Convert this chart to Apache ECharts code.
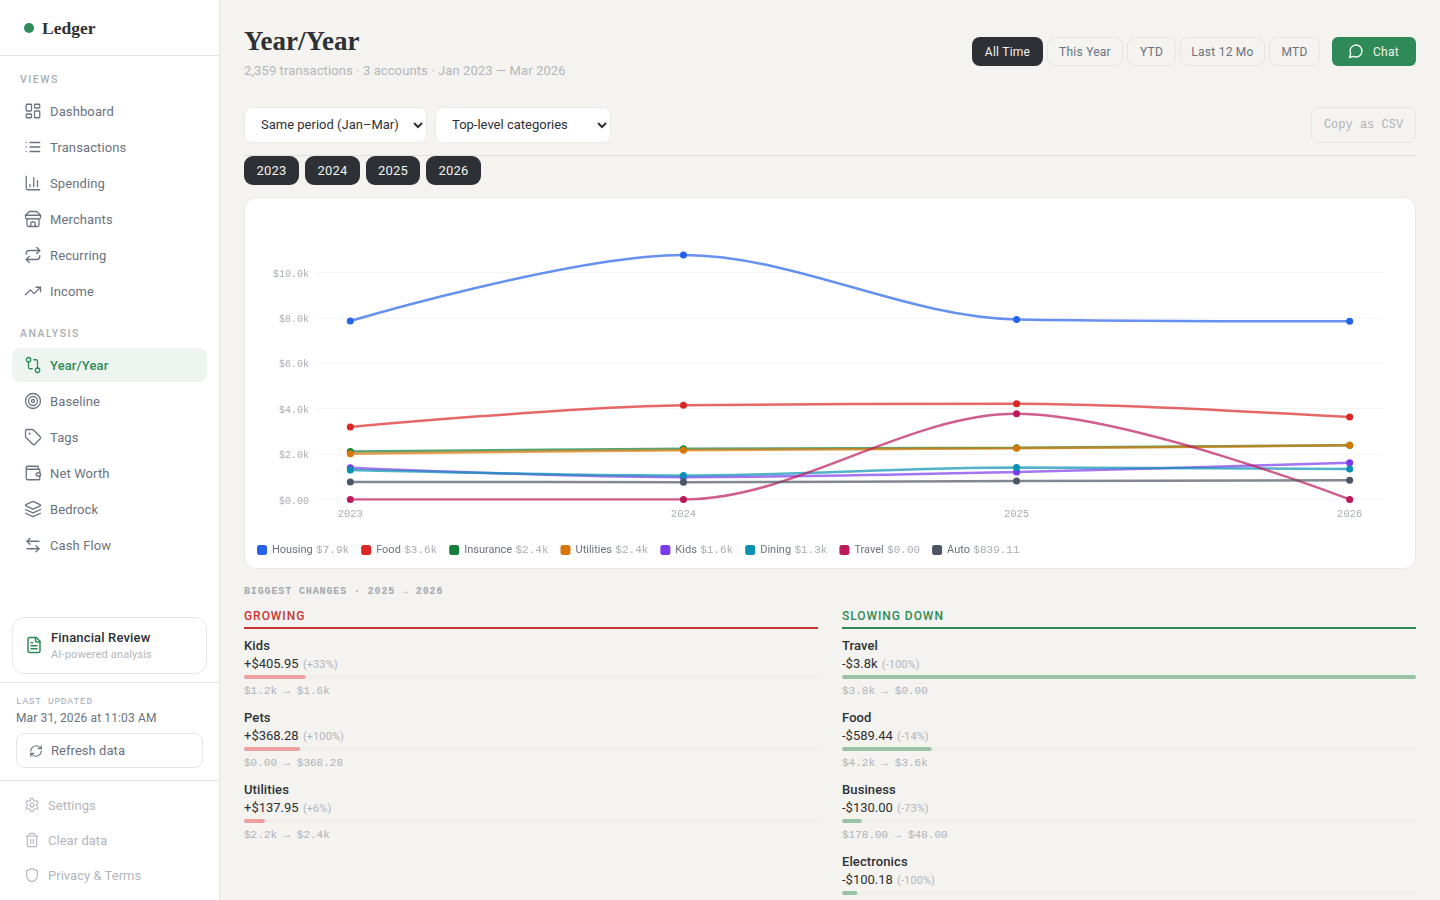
<!DOCTYPE html>
<html><head><meta charset="utf-8">
<script src="https://cdn.jsdelivr.net/npm/echarts@6/dist/echarts.min.js"></script>
<style>
*{box-sizing:border-box;margin:0;padding:0}
html,body{width:1440px;height:900px;overflow:hidden;background:#f4f3ef;font-family:Roboto,sans-serif;color:#2d3035}
.a{position:absolute;white-space:nowrap}
.mono{font-family:"Liberation Mono",monospace}
.serif{font-family:"Liberation Serif",serif;font-weight:700}
svg.i{position:absolute;fill:none;stroke:currentColor;stroke-width:2;stroke-linecap:round;stroke-linejoin:round}
.vc{display:flex;align-items:center;justify-content:center}
.pill{border:1px solid #e6e5e1;border-radius:8px;color:#6b7280;font-size:12px;font-weight:400;letter-spacing:.25px}
.dark{background:#2d3035;color:#f4f3ef;border:none;border-radius:8px;font-size:12px;font-weight:400;letter-spacing:.25px}
select{position:absolute;background:#fff;border:1px solid #ebeae6;border-radius:8px;font:13px Roboto,sans-serif;letter-spacing:0;color:#2d3035;padding-left:12px;padding-bottom:2px}
</style></head><body>
<div class="a" style="left:0;top:0;width:220px;height:900px;background:#fff;border-right:1px solid #e6e5e1"></div>
<div class="a" style="left:0;top:55px;width:219px;height:1px;background:#e6e5e1"></div>
<div class="a" style="left:24px;top:23px;width:10px;height:10px;border-radius:5px;background:#2e8b57"></div>
<div class="a serif" style="left:42px;top:17px;font-size:17.5px;line-height:22px;color:#2d3035">Ledger</div>
<div class="a" style="left:12px;top:348px;width:195px;height:34px;border-radius:8px;background:#eef4f0"></div>
<div id="nav"></div>
<div class="a" style="left:12px;top:617px;width:195px;height:57px;border:1px solid #e8e8e5;border-radius:12px"></div>
<svg class="i" viewBox="0 0 24 24" style="left:25px;top:636px;width:18px;height:18px;color:#2e8b57"><path d="M15 2H6a2 2 0 0 0-2 2v16a2 2 0 0 0 2 2h12a2 2 0 0 0 2-2V7Z"/><path d="M14 2v4a2 2 0 0 0 2 2h4"/><path d="M10 9H8M16 13H8M16 17H8"/></svg>
<div class="a" style="left:51px;top:630px;font-size:13px;line-height:16px;font-weight:500;letter-spacing:.15px;color:#2d3035">Financial Review</div>
<div class="a" style="left:51px;top:648px;font-size:11px;line-height:14px;letter-spacing:.15px;color:#b3b6bc">AI-powered analysis</div>
<div class="a" style="left:0;top:682px;width:219px;height:1px;background:#e6e5e1"></div>
<div class="a mono" style="left:16px;top:696px;font-size:9.5px;line-height:12px;letter-spacing:.7px;color:#a3a7af">LAST UPDATED</div>
<div class="a" style="left:16px;top:711px;font-size:12px;line-height:15px;letter-spacing:.13px;color:#6b7280">Mar 31, 2026 at 11:03 AM</div>
<div class="a" style="left:16px;top:733px;width:187px;height:35px;border:1px solid #e6e5e1;border-radius:8px"></div>
<svg class="i" viewBox="0 0 24 24" style="left:29px;top:744px;width:14px;height:14px;color:#6b7280"><path d="M3 12a9 9 0 0 1 9-9 9.75 9.75 0 0 1 6.74 2.74L21 8"/><path d="M21 3v5h-5"/><path d="M21 12a9 9 0 0 1-9 9 9.75 9.75 0 0 1-6.74-2.74L3 16"/><path d="M8 16H3v5"/></svg>
<div class="a" style="left:51px;top:742px;font-size:13px;line-height:17px;letter-spacing:.05px;color:#6b7280">Refresh data</div>
<div class="a" style="left:0;top:780px;width:219px;height:1px;background:#e6e5e1"></div>
<div id="foot"></div>

<div class="a serif" style="left:244px;top:23px;font-size:27px;line-height:36px;color:#2d3035">Year/Year</div>
<div class="a" style="left:244px;top:62px;font-size:13px;line-height:18px;letter-spacing:.1px;color:#b3b6bc">2,359 transactions · 3 accounts · Jan 2023 — Mar 2026</div>
<div id="ranges"></div>
<div class="a vc" style="left:1332px;top:37px;width:84px;height:29px;border-radius:6px;background:#2e8b57;color:#f4f3ef;font-size:12px;font-weight:400;padding-left:24px;letter-spacing:.25px">Chat</div>
<svg class="i" viewBox="0 0 24 24" style="left:1348px;top:43px;width:16px;height:16px;color:#fff"><path d="M7.9 20A9 9 0 1 0 4 16.1L2 22Z"/></svg>
<select style="left:244px;top:107px;width:183px;height:36px"><option>Same period (Jan–Mar)</option></select>
<select style="left:435px;top:107px;width:176px;height:36px"><option>Top-level categories</option></select>
<div class="a vc mono pill" style="left:1311px;top:107px;width:105px;height:36px;font-size:12px;font-weight:400;letter-spacing:0;color:#b0b2b9">Copy as CSV</div>
<div class="a" style="left:244px;top:155px;width:1172px;height:1px;background:#e0dfdb"></div>
<div id="years"></div>
<div class="a" style="left:244px;top:197px;width:1172px;height:372px;background:#fff;border:1px solid #e8e8e5;border-radius:12px"></div>
<div id="chart" class="a" style="left:245px;top:198px;width:1170px;height:370px"></div>

<div id="changeTitle" class="a mono" style="left:244px;top:586px;font-size:10px;line-height:12px;font-weight:700;letter-spacing:.87px;color:#a3a7af"></div>
<div id="lists"></div>

<script>
// ---- chart data ----
const years = [2023, 2024, 2025, 2026];
const housing = [7860, 10770, 7930, 7850];
const food = [3190, 4150, 4210, 3630];
const insurance = [2110, 2230, 2280, 2390];
const utilities = [2010, 2170, 2250, 2388];
const kids = [1390, 980, 1210, 1620];
const dining = [1290, 1050, 1400, 1340];
const travel = [0, 0, 3770, 0];
const auto = [770, 760, 810, 839.11];
const seriesNames = ['Housing','Food','Insurance','Utilities','Kids','Dining','Travel','Auto'];
const legendValues = ['$7.9k','$3.6k','$2.4k','$2.4k','$1.6k','$1.3k','$0.00','$839.11'];
const seriesColors = ['#2563eb','#dc2626','#15803d','#d97706','#7c3aed','#0891b2','#be185d','#4b5563'];

// ---- biggest changes ----
const growNames = ['Kids','Pets','Utilities'];
const growAmounts = [405.95, 368.28, 137.95];
const growText = ['+$405.95','+$368.28','+$137.95'];
const growPct = ['(+33%)','(+100%)','(+6%)'];
const growRange = ['$1.2k → $1.6k','$0.00 → $368.28','$2.2k → $2.4k'];
const slowNames = ['Travel','Food','Business','Electronics'];
const slowAmounts = [3770, 589.44, 130, 100.18];
const slowText = ['-$3.8k','-$589.44','-$130.00','-$100.18'];
const slowPct = ['(-100%)','(-14%)','(-73%)','(-100%)'];
const slowRange = ['$3.8k → $0.00','$4.2k → $3.6k','$178.00 → $48.00','$100.18 → $0.00'];
const changePeriod = ['2025','2026'];

// ---- page text ----
const views = ['Dashboard','Transactions','Spending','Merchants','Recurring','Income'];
const analysis = ['Year/Year','Baseline','Tags','Net Worth','Bedrock','Cash Flow'];
const footer = ['Settings','Clear data','Privacy & Terms'];
const ranges = ['All Time','This Year','YTD','Last 12 Mo','MTD'];

const icons = {
Dashboard:'<rect width="7" height="9" x="3" y="3" rx="1"/><rect width="7" height="5" x="14" y="3" rx="1"/><rect width="7" height="9" x="14" y="12" rx="1"/><rect width="7" height="5" x="3" y="16" rx="1"/>',
Transactions:'<path d="M3 12h.01M3 18h.01M3 6h.01M8 12h13M8 18h13M8 6h13"/>',
Spending:'<path d="M3 3v16a2 2 0 0 0 2 2h16M18 17V9M13 17V5M8 17v-3"/>',
Merchants:'<path d="M2 7l4.41-4.41A2 2 0 0 1 7.83 2h8.34a2 2 0 0 1 1.42.59L22 7"/><path d="M4 12v8a2 2 0 0 0 2 2h12a2 2 0 0 0 2-2v-8"/><path d="M15 22v-4a2 2 0 0 0-2-2h-2a2 2 0 0 0-2 2v4"/><path d="M2 7h20"/><path d="M22 7v3a2 2 0 0 1-2 2a2.7 2.7 0 0 1-1.59-.63.7.7 0 0 0-.82 0A2.7 2.7 0 0 1 16 12a2.7 2.7 0 0 1-1.59-.63.7.7 0 0 0-.82 0A2.7 2.7 0 0 1 12 12a2.7 2.7 0 0 1-1.59-.63.7.7 0 0 0-.82 0A2.7 2.7 0 0 1 8 12a2.7 2.7 0 0 1-1.59-.63.7.7 0 0 0-.82 0A2.7 2.7 0 0 1 4 12a2 2 0 0 1-2-2V7"/>',
Recurring:'<path d="m17 2 4 4-4 4"/><path d="M3 11v-1a4 4 0 0 1 4-4h14"/><path d="m7 22-4-4 4-4"/><path d="M21 13v1a4 4 0 0 1-4 4H3"/>',
Income:'<path d="M22 7l-8.5 8.5-5-5L2 17"/><path d="M16 7h6v6"/>',
'Year/Year':'<circle cx="6" cy="5" r="3"/><circle cx="18" cy="19" r="3"/><path d="M6 8v7a2 2 0 0 0 2 2h3"/><path d="M13 5h3a2 2 0 0 1 2 2v9"/>',
Baseline:'<circle cx="12" cy="12" r="10"/><circle cx="12" cy="12" r="6"/><circle cx="12" cy="12" r="2"/>',
Tags:'<path d="M12.586 2.586A2 2 0 0 0 11.172 2H4a2 2 0 0 0-2 2v7.172a2 2 0 0 0 .586 1.414l8.704 8.704a2.426 2.426 0 0 0 3.42 0l6.58-6.58a2.426 2.426 0 0 0 0-3.42z"/><circle cx="7.5" cy="7.5" r=".5"/>',
'Net Worth':'<path d="M19 7V4a1 1 0 0 0-1-1H5a2 2 0 0 0 0 4h15a1 1 0 0 1 1 1v4h-3a2 2 0 0 0 0 4h3a1 1 0 0 0 1-1v-2a1 1 0 0 0-1-1"/><path d="M3 5v14a2 2 0 0 0 2 2h15a1 1 0 0 0 1-1v-4"/>',
Bedrock:'<path d="M12.83 2.18a2 2 0 0 0-1.66 0L2.6 6.08a1 1 0 0 0 0 1.83l8.58 3.91a2 2 0 0 0 1.66 0l8.58-3.9a1 1 0 0 0 0-1.83Z"/><path d="M22 17.65l-9.17 4.16a2 2 0 0 1-1.66 0L2 17.65"/><path d="M22 12.65l-9.17 4.16a2 2 0 0 1-1.66 0L2 12.65"/>',
'Cash Flow':'<path d="M8 3 4 7l4 4"/><path d="M4 7h16"/><path d="m16 21 4-4-4-4"/><path d="M20 17H4"/>',
Settings:'<path d="M12.22 2h-.44a2 2 0 0 0-2 2v.18a2 2 0 0 1-1 1.73l-.43.25a2 2 0 0 1-2 0l-.15-.08a2 2 0 0 0-2.73.73l-.22.38a2 2 0 0 0 .73 2.73l.15.1a2 2 0 0 1 1 1.72v.51a2 2 0 0 1-1 1.74l-.15.09a2 2 0 0 0-.73 2.73l.22.38a2 2 0 0 0 2.73.73l.15-.08a2 2 0 0 1 2 0l.43.25a2 2 0 0 1 1 1.73V20a2 2 0 0 0 2 2h.44a2 2 0 0 0 2-2v-.18a2 2 0 0 1 1-1.73l.43-.25a2 2 0 0 1 2 0l.15.08a2 2 0 0 0 2.73-.73l.22-.39a2 2 0 0 0-.73-2.73l-.15-.08a2 2 0 0 1-1-1.74v-.5a2 2 0 0 1 1-1.74l.15-.09a2 2 0 0 0 .73-2.73l-.22-.38a2 2 0 0 0-2.73-.73l-.15.08a2 2 0 0 1-2 0l-.43-.25a2 2 0 0 1-1-1.73V4a2 2 0 0 0-2-2z"/><circle cx="12" cy="12" r="3"/>',
'Clear data':'<path d="M3 6h18M19 6v14c0 1-1 2-2 2H7c-1 0-2-1-2-2V6M8 6V4c0-1 1-2 2-2h4c1 0 2 1 2 2v2M10 11v6M14 11v6"/>',
'Privacy & Terms':'<path d="M20 13c0 5-3.5 7.5-7.66 8.95a1 1 0 0 1-.67-.01C7.5 20.5 4 18 4 13V6a1 1 0 0 1 1-1c2 0 4.5-1.2 6.24-2.72a1.17 1.17 0 0 1 1.52 0C14.51 3.81 17 5 19 5a1 1 0 0 1 1 1z"/>'
};

function el(parent, html){ document.getElementById(parent).insertAdjacentHTML('beforeend', html); }
function navRow(name, cy, active){
  const col = active ? '#2e8b57' : '#6b7280';
  el('nav', `<svg class="i" viewBox="0 0 24 24" style="left:24px;top:${cy-9}px;width:18px;height:18px;stroke-width:1.7;color:${col}">${icons[name]}</svg>
  <div class="a" style="left:50px;top:${cy-8}px;font-size:13px;line-height:18px;letter-spacing:.12px;font-weight:${active?500:400};color:${col}">${name}</div>`);
}
function label(text, cy){
  el('nav', `<div class="a" style="left:20px;top:${cy-6}px;font-size:10.5px;line-height:14px;font-weight:500;letter-spacing:1.5px;color:#a9adb5">${text}</div>`);
}
label('VIEWS', 79);
views.forEach((n,i)=>navRow(n, 111+36*i, false));
label('ANALYSIS', 333);
analysis.forEach((n,i)=>navRow(n, 365+36*i, i===0));
footer.forEach((n,i)=>{
  const cy = 805+35*i;
  el('foot', `<svg class="i" viewBox="0 0 24 24" style="left:24px;top:${cy-8}px;width:16px;height:16px;stroke-width:1.7;color:#b3b6bc">${icons[n]}</svg>
  <div class="a" style="left:48px;top:${cy-8}px;font-size:13px;line-height:18px;letter-spacing:.03px;color:#b3b6bc">${n}</div>`);
});
const rangeBox = [[972,71],[1047,76],[1127,49],[1180,85],[1269,51]];
ranges.forEach((n,i)=>{
  const [l,w] = rangeBox[i];
  el('ranges', `<div class="a vc ${i===0?'dark':'pill'}" style="left:${l}px;top:37px;width:${w}px;height:29px">${n}</div>`);
});
const yearBox = [[244,55],[305,55],[366,54],[426,55]];
years.forEach((y,i)=>{
  const [l,w] = yearBox[i];
  el('years', `<div class="a vc dark" style="left:${l}px;top:156px;width:${w}px;height:29px;font-size:13px;border-radius:9px">${y}</div>`);
});
document.getElementById('changeTitle').textContent = `BIGGEST CHANGES · ${changePeriod[0]} → ${changePeriod[1]}`;

// ---- main chart ----
const seriesValues = [housing, food, insurance, utilities, kids, dining, travel, auto];
const chart = echarts.init(document.getElementById('chart'));
function money(v){ return v === 0 ? '$0.00' : '$' + (v/1000).toFixed(1) + 'k'; }
chart.setOption({
  animation:false,
  grid:{left:72, top:29, width:1066, height:272.4},
  xAxis:{type:'value', min:2022.9, max:2026.1,
    axisLine:{show:false}, axisTick:{show:false}, splitLine:{show:false},
    axisLabel:{customValues:years, formatter:v=>String(Math.round(v)), color:'#a9acb3', fontFamily:'Liberation Mono', fontSize:10.5, margin:9}},
  yAxis:{type:'value', min:0, max:12000, interval:2000,
    axisLine:{show:false}, axisTick:{show:false},
    splitLine:{show:true, showMaxLine:false, lineStyle:{color:'#f5f5f3', width:1}},
    axisLabel:{showMaxLabel:false, formatter:v=>`{t|${money(v)}}`, margin:8,
      rich:{t:{color:'#a9acb3', fontFamily:'Liberation Mono', fontSize:10, padding:[3,0,0,0]}}}},
  legend:{left:12, top:346, padding:0, itemWidth:10, itemHeight:10, itemGap:12, icon:'roundRect',
    data:seriesNames,
    formatter:n=>`{n|${n}} {v|${legendValues[seriesNames.indexOf(n)]}}`,
    textStyle:{rich:{
      n:{fontFamily:'Roboto', fontSize:11, color:'#6b7280'},
      v:{fontFamily:'Liberation Mono', fontSize:11, color:'#a9acb3'}}}},
  series:seriesNames.map((name,i)=>({
    name, type:'line', smooth:0.33, symbol:'circle', symbolSize:7, showSymbol:true,
    color:seriesColors[i],
    lineStyle:{color:seriesColors[i], width:2.5, opacity:.7},
    itemStyle:{color:seriesColors[i], opacity:1},
    data:seriesValues[i].map((v,j)=>[years[j], v])
  }))
});

// ---- change lists ----
const maxChange = Math.max(...growAmounts, ...slowAmounts);
function list(left, title, color, barColor, names, amounts, text, pct, range){
  el('lists', `<div class="a" style="left:${left}px;top:608px;font-size:12px;line-height:16px;font-weight:500;letter-spacing:.95px;color:${color}">${title}</div>
  <div class="a" style="left:${left}px;top:627px;width:574px;height:2px;background:${color}"></div>`);
  names.forEach((n,i)=>{
    const t = 637+72*i;
    const id = 'bar'+left+'_'+i;
    el('lists', `<div class="a" style="left:${left}px;top:${t}px;font-size:13px;line-height:18px;font-weight:500;letter-spacing:.1px;color:#2d3035">${n}</div>
    <div class="a" style="left:${left}px;top:${t+18}px;font-size:13px;line-height:18px;color:#2d3035">${text[i]} <span style="font-size:11px;color:#b3b6bc;margin-left:1px;letter-spacing:.1px">${pct[i]}</span></div>
    <div class="a" id="${id}" style="left:${left}px;top:${t+38}px;width:574px;height:4px"></div>
    <div class="a mono" style="left:${left}px;top:${t+47}px;font-size:11px;line-height:14px;color:#b0b2b9">${range[i]}</div>`);
    const b = echarts.init(document.getElementById(id));
    b.setOption({animation:false,
      grid:{left:0,right:0,top:0,bottom:0},
      xAxis:{type:'value',min:0,max:maxChange,show:false},
      yAxis:{type:'category',data:[n],show:false},
      series:[{type:'bar',data:[amounts[i]],barWidth:4,showBackground:true,
        backgroundStyle:{color:'#efeeea',borderRadius:2},
        itemStyle:{color:barColor,borderRadius:2}}]});
  });
}
list(244,'GROWING','#c93434','#e9a09f',growNames,growAmounts,growText,growPct,growRange);
list(842,'SLOWING DOWN','#2e8b57','#98c3a5',slowNames,slowAmounts,slowText,slowPct,slowRange);
</script>
</body></html>
